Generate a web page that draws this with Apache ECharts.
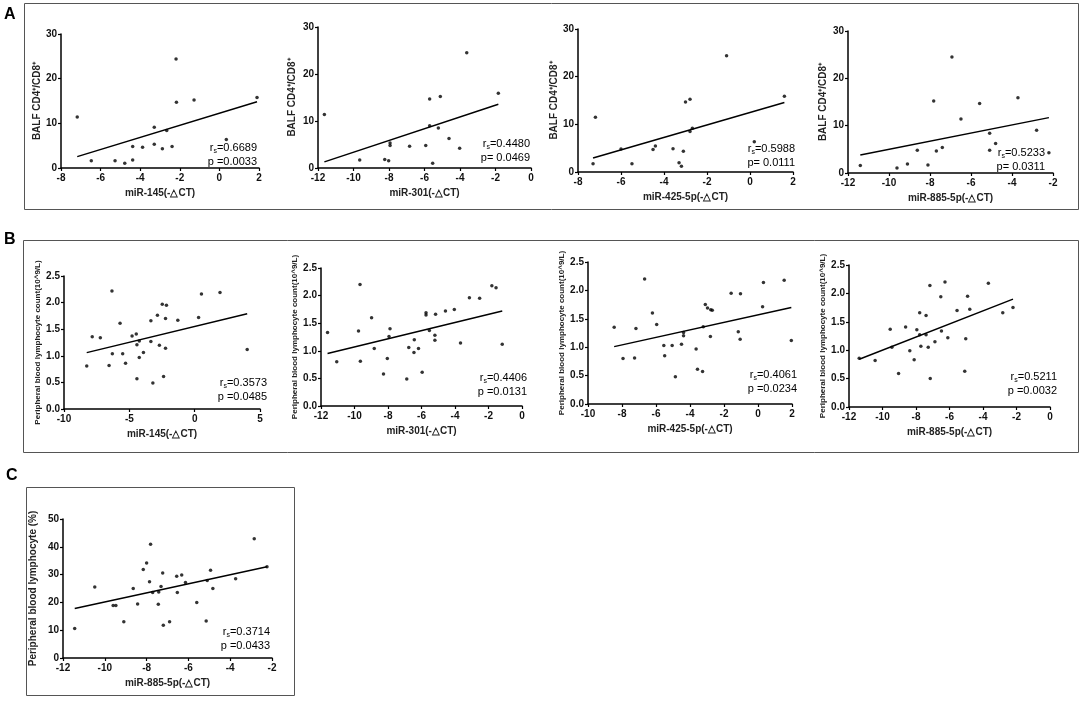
<!DOCTYPE html>
<html lang="en">
<head>
<meta charset="UTF-8">
<title>miRNA correlation</title>
<style>html,body{margin:0;padding:0;background:#fff;}</style>
</head>
<body>
<div id="main" style="width:1084px;height:704px;"></div>
<script src="https://cdn.jsdelivr.net/npm/echarts@6/dist/echarts.min.js"></script>
<script>
// ---- A: BALF CD4+/CD8+ ----
var a145x = [-7.18, -6.47, -5.27, -4.78, -4.38, -4.38, -3.88, -3.29, -3.29, -2.88, -2.66, -2.39, -2.19, -2.17, -1.28, 0.35, 1.9];
var a145y = [11.4, 1.65, 1.65, 1.05, 1.8, 4.8, 4.65, 9.1, 5.3, 4.3, 8.4, 4.8, 24.4, 14.7, 15.2, 6.4, 15.8];
var a145fit = [[-7.18, 2.55], [1.9, 14.85]];

var a301x = [-11.64, -9.65, -8.24, -8.02, -7.94, -7.94, -6.84, -5.93, -5.71, -5.71, -5.54, -5.22, -5.11, -4.62, -4.02, -3.62, -1.84];
var a301y = [11.4, 1.7, 1.8, 1.55, 5.3, 4.8, 4.65, 4.8, 14.7, 9.0, 1.0, 8.5, 15.2, 6.3, 4.2, 24.5, 15.9];
var a301fit = [[-11.64, 1.3], [-1.84, 13.55]];

var a425x = [-7.3, -7.19, -6.0, -5.49, -4.51, -4.4, -3.58, -3.3, -3.19, -3.1, -3.0, -2.79, -2.79, -2.68, -1.09, 0.2, 1.6];
var a425y = [1.75, 11.5, 4.8, 1.75, 4.7, 5.45, 4.9, 1.95, 1.2, 4.35, 14.7, 15.25, 8.5, 9.2, 24.4, 6.35, 15.9];
var a425fit = [[-7.3, 2.94], [1.6, 14.6]];

var a885x = [-11.4, -9.61, -9.1, -8.62, -8.1, -7.82, -7.69, -7.4, -6.93, -6.49, -5.58, -5.09, -5.09, -4.8, -3.71, -2.8, -2.2];
var a885y = [1.6, 1.05, 1.9, 4.8, 1.7, 15.2, 4.65, 5.4, 24.5, 11.4, 14.7, 8.4, 4.8, 6.25, 15.9, 9.05, 4.3];
var a885fit = [[-11.4, 3.8], [-2.2, 11.7]];

// ---- B: peripheral blood lymphocyte count ----
var b145x = [-8.26, -7.84, -7.22, -6.55, -6.33, -6.3, -5.71, -5.51, -5.29, -4.79, -4.47, -4.42, -4.42, -4.24, -4.24, -3.92, -3.35, -3.35, -3.2, -2.85, -2.7, -2.48, -2.38, -2.23, -2.23, -2.16, -1.29, 0.3, 0.52, 1.94, 4.02];
var b145y = [0.81, 1.36, 1.34, 0.82, 2.22, 1.04, 1.61, 1.04, 0.86, 1.37, 1.41, 1.21, 0.57, 1.28, 0.97, 1.06, 1.66, 1.27, 0.49, 1.76, 1.2, 1.97, 0.61, 1.7, 1.14, 1.95, 1.67, 1.72, 2.16, 2.19, 1.12];
var b145fit = [[-8.26, 1.06], [4.02, 1.79]];

var b301x = [-11.61, -11.06, -9.76, -9.67, -9.65, -8.98, -8.82, -8.27, -8.04, -7.94, -7.88, -6.88, -6.76, -6.45, -6.43, -6.18, -5.96, -5.73, -5.73, -5.53, -5.2, -5.2, -5.16, -4.57, -4.04, -3.67, -3.14, -2.53, -1.8, -1.55, -1.18];
var b301y = [1.33, 0.8, 1.36, 2.2, 0.81, 1.6, 1.04, 0.58, 0.86, 1.26, 1.4, 0.49, 1.06, 0.97, 1.2, 1.04, 0.61, 1.65, 1.69, 1.37, 1.28, 1.19, 1.66, 1.72, 1.75, 1.14, 1.96, 1.95, 2.18, 2.14, 1.12];
var b301fit = [[-11.61, 0.95], [-1.18, 1.72]];

var b425x = [-8.46, -7.94, -7.26, -7.18, -6.67, -6.21, -5.96, -5.54, -5.49, -5.05, -4.86, -4.5, -4.38, -4.38, -3.64, -3.56, -3.26, -3.22, -3.1, -2.97, -2.8, -2.78, -2.69, -1.58, -1.16, -1.05, -1.03, 0.27, 0.32, 1.54, 1.96];
var b425y = [1.35, 0.8, 0.81, 1.33, 2.2, 1.6, 1.4, 1.03, 0.85, 1.03, 0.48, 1.05, 1.26, 1.2, 0.97, 0.61, 0.57, 1.36, 1.75, 1.69, 1.19, 1.66, 1.65, 1.95, 1.27, 1.14, 1.94, 1.71, 2.14, 2.18, 1.12];
var b425fit = [[-8.46, 1.01], [1.96, 1.7]];

var b885x = [-11.39, -10.44, -9.54, -9.44, -9.04, -8.62, -8.37, -8.11, -7.95, -7.78, -7.78, -7.71, -7.4, -7.4, -7.27, -7.17, -7.15, -6.87, -6.52, -6.48, -6.27, -6.1, -5.55, -5.09, -5.03, -4.92, -4.79, -3.68, -2.82, -2.21];
var b885y = [0.86, 0.82, 1.37, 1.05, 0.59, 1.41, 0.99, 0.83, 1.36, 1.66, 1.27, 1.07, 1.61, 1.27, 1.05, 2.14, 0.5, 1.15, 1.94, 1.34, 2.2, 1.22, 1.7, 0.63, 1.2, 1.95, 1.72, 2.18, 1.66, 1.75];
var b885fit = [[-11.39, 0.84], [-2.21, 1.9]];

// ---- C: peripheral blood lymphocyte (%) ----
var c885x = [-11.44, -10.48, -9.6, -9.47, -9.09, -8.64, -8.43, -8.16, -8.0, -7.86, -7.81, -7.71, -7.44, -7.42, -7.31, -7.23, -7.2, -6.9, -6.56, -6.53, -6.32, -6.14, -5.6, -5.15, -5.1, -4.94, -4.83, -3.74, -2.85, -2.24];
var c885y = [10.6, 25.5, 18.9, 18.9, 13.0, 25.0, 19.4, 31.8, 34.2, 27.4, 40.9, 23.6, 19.3, 23.7, 25.7, 30.6, 11.8, 13.0, 29.4, 23.6, 29.9, 27.2, 20.0, 13.3, 27.9, 31.6, 25.0, 28.5, 42.9, 32.8];
var c885fit = [[-11.44, 17.8], [-2.24, 32.8]];

// axis ranges [min, max, interval]
var xRanges = [[-8, 2, 2], [-12, 0, 2], [-8, 2, 2], [-12, -2, 2],
               [-10, 5, 5], [-12, 0, 2], [-10, 2, 2], [-12, 0, 2],
               [-12, -2, 2]];
var yRanges = [[0, 30, 10], [0, 30, 10], [0, 30, 10], [0, 30, 10],
               [0, 2.5, 0.5], [0, 2.5, 0.5], [0, 2.5, 0.5], [0, 2.5, 0.5],
               [0, 50, 10]];
var xNames = ['miR-145(-△CT)', 'miR-301(-△CT)', 'miR-425-5p(-△CT)', 'miR-885-5p(-△CT)',
              'miR-145(-△CT)', 'miR-301(-△CT)', 'miR-425-5p(-△CT)', 'miR-885-5p(-△CT)',
              'miR-885-5p(-△CT)'];
var yNames = ['BALF CD4⁺/CD8⁺', 'BALF CD4⁺/CD8⁺', 'BALF CD4⁺/CD8⁺', 'BALF CD4⁺/CD8⁺',
              'Peripheral blood lymphocyte count(10^9/L)', 'Peripheral blood lymphocyte count(10^9/L)',
              'Peripheral blood lymphocyte count(10^9/L)', 'Peripheral blood lymphocyte count(10^9/L)',
              'Peripheral blood lymphocyte (%)'];
var rsText = ['0.6689', '0.4480', '0.5988', '0.5233', '0.3573', '0.4406', '0.4061', '0.5211', '0.3714'];
var pText = ['p =0.0033', 'p= 0.0469', 'p= 0.0111', 'p= 0.0311', 'p =0.0485', 'p =0.0131', 'p =0.0234', 'p =0.0032', 'p =0.0433'];

var xs = [a145x, a301x, a425x, a885x, b145x, b301x, b425x, b885x, c885x];
var ys = [a145y, a301y, a425y, a885y, b145y, b301y, b425y, b885y, c885y];
var fits = [a145fit, a301fit, a425fit, a885fit, b145fit, b301fit, b425fit, b885fit, c885fit];

// layout: plot area [left, top, right, bottom] in px
var boxes = [[61, 34, 259, 168], [318, 27, 531, 168], [578, 29, 793, 172], [848, 31, 1053, 173],
             [64, 276, 260, 409], [321, 268, 522, 406], [588, 262, 792, 404], [849, 265, 1050, 407],
             [63, 519, 272, 658]];
// gap between y axis line and its name
var yNameGaps = [15, 21, 19, 20, 18, 20, 20, 21, 25];
// stats label anchor [right, top]
var statPos = [[257, 141], [530, 137], [795, 142], [1045, 146],
               [267, 376], [527, 371], [797, 368], [1057, 370],
               [270, 625]];

var font = 'Arial, "Liberation Sans", sans-serif';
var chart = echarts.init(document.getElementById('main'));

var grid = [], xAxis = [], yAxis = [], series = [], graphic = [];

for (var i = 0; i < 9; i++) {
    var b = boxes[i];
    grid.push({left: b[0], top: b[1], width: b[2] - b[0], height: b[3] - b[1]});

    var axisCommon = {
        axisLine: {show: true, onZero: false, lineStyle: {color: '#000', width: 1.5}},
        axisTick: {show: true, length: 3, lineStyle: {color: '#000', width: 1.2}},
        splitLine: {show: false},
        nameLocation: 'middle',
        nameTextStyle: {fontFamily: font, fontWeight: 'bold', fontSize: 10, color: '#222'}
    };

    xAxis.push(Object.assign({}, axisCommon, {
        type: 'value', gridIndex: i,
        min: xRanges[i][0], max: xRanges[i][1], interval: xRanges[i][2],
        name: xNames[i], nameGap: 20,
        axisLabel: {fontFamily: font, fontWeight: 'bold', fontSize: 10, color: '#111', margin: 5}
    }));

    var isB = i >= 4 && i < 8;
    yAxis.push(Object.assign({}, axisCommon, {
        type: 'value', gridIndex: i,
        min: yRanges[i][0], max: yRanges[i][1], interval: yRanges[i][2],
        name: yNames[i], nameGap: yNameGaps[i],
        nameTextStyle: {fontFamily: font, fontWeight: 'bold', fontSize: isB ? 8 : 10, color: '#222'},
        axisLabel: {
            fontFamily: font, fontWeight: 'bold', fontSize: 10, color: '#111', margin: 4,
            formatter: isB ? function (v) { return v.toFixed(1); } : '{value}'
        }
    }));

    var pts = [];
    for (var k = 0; k < xs[i].length; k++) pts.push([xs[i][k], ys[i][k]]);

    series.push({
        type: 'scatter', xAxisIndex: i, yAxisIndex: i,
        data: pts, symbolSize: 3.5,
        itemStyle: {color: '#000'}, silent: true
    });
    series.push({
        type: 'line', xAxisIndex: i, yAxisIndex: i,
        data: fits[i], symbol: 'none',
        lineStyle: {color: '#000', width: 1.5}, silent: true
    });

    graphic.push({
        type: 'text', x: statPos[i][0], y: statPos[i][1],
        style: {
            text: '{r|r}{s|s}{v|=' + rsText[i] + '}\n{v|' + pText[i] + '}',
            align: 'right', verticalAlign: 'top',
            rich: {
                r: {fontFamily: font, fontSize: 11, color: '#444', lineHeight: 14},
                s: {fontFamily: font, fontSize: 7, color: '#444', lineHeight: 14, verticalAlign: 'bottom', padding: [4, 0, 0, 0]},
                v: {fontFamily: font, fontSize: 11, color: '#444', lineHeight: 14}
            }
        }
    });
}

// panel frames and letters
var frames = [[24, 3, 1078, 209], [23, 240, 1078, 452], [26, 487, 294, 695]];
var letters = [['A', 4, 7], ['B', 4, 232], ['C', 6, 468]];
frames.forEach(function (f) {
    graphic.push({
        type: 'rect', shape: {x: f[0] + 0.5, y: f[1] + 0.5, width: f[2] - f[0], height: f[3] - f[1]},
        style: {fill: 'none', stroke: '#555', lineWidth: 1}, silent: true
    });
});
letters.forEach(function (l) {
    graphic.push({
        type: 'text', x: l[1], y: l[2],
        style: {text: l[0], fontFamily: font, fontWeight: 'bold', fontSize: 16, fill: '#000'}
    });
});

chart.setOption({
    animation: false,
    grid: grid,
    xAxis: xAxis,
    yAxis: yAxis,
    series: series,
    graphic: graphic
});
</script>
</body>
</html>
